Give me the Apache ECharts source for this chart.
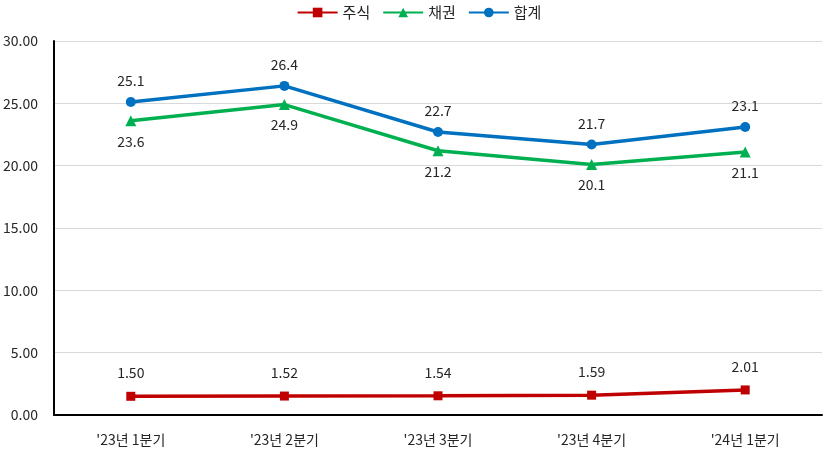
<!DOCTYPE html>
<html><head><meta charset="utf-8">
<script src="https://cdn.jsdelivr.net/npm/echarts@6/dist/echarts.min.js"></script>
<style>html,body{margin:0;padding:0;background:#fff}#c{width:838px;height:457px}</style>
</head><body><div id="c"></div>
<script>
const categories = ["'23년 1분기", "'23년 2분기", "'23년 3분기", "'23년 4분기", "'24년 1분기"];
const stock = [1.50, 1.52, 1.54, 1.59, 2.01];
const bond = [23.6, 24.9, 21.2, 20.1, 21.1];
const total = [25.1, 26.4, 22.7, 21.7, 23.1];
const yTicks = [0, 5, 10, 15, 20, 25, 30];

const font = '"Noto Sans CJK KR", "Noto Sans", sans-serif';
const chart = echarts.init(document.getElementById('c'));
function mk(name, data, color, symbol, size, pos, dist, dec) {
  return {
    name, type: 'line', data, symbol, symbolSize: size,
    lineStyle: {color, width: 3.5}, itemStyle: {color},
    label: {show: true, position: pos, distance: dist, color: '#262626', fontSize: 14, fontFamily: font,
      formatter: p => p.value.toFixed(dec)},
    z: 3
  };
}
chart.setOption({
  animation: false,
  textStyle: {fontFamily: font},
  legend: {
    top: 0, left: 'center', itemWidth: 40, itemHeight: 12, itemGap: 12,
    textStyle: {fontSize: 15, color: '#262626', fontFamily: font},
    data: ['주식', '채권', '합계']
  },
  grid: {left: 54, right: 16, top: 41, bottom: 42, containLabel: false},
  xAxis: {
    type: 'category', data: categories, boundaryGap: true,
    axisLine: {lineStyle: {color: '#000', width: 2}},
    axisTick: {show: false},
    axisLabel: {color: '#262626', fontSize: 14, margin: 18, fontFamily: font}
  },
  yAxis: {
    type: 'value', min: 0, max: 30, interval: 5,
    axisLine: {show: true, lineStyle: {color: '#000', width: 2}},
    axisTick: {show: false},
    splitLine: {lineStyle: {color: '#d9d9d9', width: 1}},
    axisLabel: {color: '#262626', fontSize: 14, margin: 16, fontFamily: font,
      formatter: v => yTicks.includes(v) ? v.toFixed(2) : ''}
  },
  series: [
    mk('주식', stock, '#C00000', 'rect', 9, 'top', 12, 2),
    mk('채권', bond, '#00B050', 'triangle', 11, 'bottom', 8, 1),
    mk('합계', total, '#0070C0', 'circle', 10, 'top', 9, 1)
  ]
});
</script></body></html>
